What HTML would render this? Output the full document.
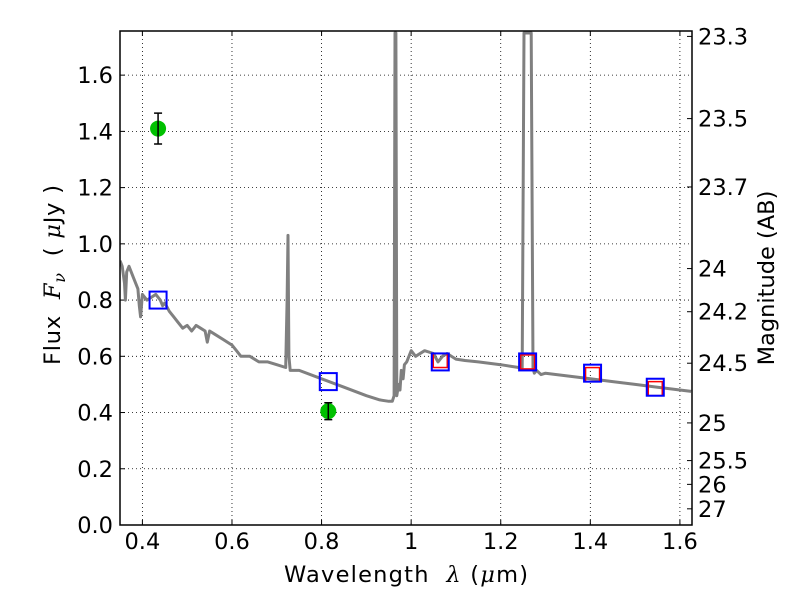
<!DOCTYPE html>
<html><head><meta charset="utf-8">
<style>
html,body{margin:0;padding:0;background:#fff;}
svg text{font-family:"DejaVu Sans","Liberation Sans",sans-serif;}
</style></head>
<body>
<svg id="chart" width="800" height="600" xmlns="http://www.w3.org/2000/svg"></svg>
<script>
const specWave=[0.35,0.355,0.36,0.362,0.365,0.37,0.38,0.39,0.393,0.396,0.40,0.41,0.42,0.43,0.44,0.445,0.45,0.46,0.47,0.48,0.49,0.50,0.51,0.52,0.53,0.54,0.545,0.55,0.56,0.58,0.60,0.61,0.62,0.64,0.66,0.68,0.70,0.72,0.723,0.725,0.727,0.73,0.75,0.80,0.85,0.90,0.93,0.95,0.958,0.962,0.964,0.966,0.968,0.972,0.975,0.978,0.982,0.985,0.99,1.0,1.01,1.03,1.05,1.06,1.07,1.08,1.10,1.12,1.15,1.2,1.24,1.248,1.252,1.268,1.272,1.275,1.28,1.29,1.3,1.35,1.4,1.45,1.5,1.55,1.6,1.625];
const specFlux=[0.94,0.92,0.86,0.80,0.90,0.92,0.88,0.84,0.78,0.74,0.82,0.80,0.81,0.82,0.80,0.78,0.79,0.76,0.74,0.72,0.70,0.71,0.69,0.71,0.70,0.69,0.65,0.69,0.68,0.66,0.64,0.62,0.60,0.60,0.58,0.58,0.57,0.56,0.80,1.03,0.60,0.55,0.55,0.52,0.49,0.46,0.445,0.44,0.44,0.46,1.75,1.75,0.46,0.50,0.48,0.55,0.52,0.57,0.58,0.62,0.60,0.62,0.61,0.58,0.60,0.61,0.59,0.585,0.58,0.57,0.56,0.56,1.75,1.75,0.56,0.54,0.55,0.535,0.54,0.53,0.52,0.51,0.50,0.49,0.48,0.475];
const modelWave=[0.435,0.815,1.065,1.26,1.405,1.545];
const modelFlux=[0.80,0.51,0.58,0.58,0.54,0.49];
const fitWave=[1.065,1.26,1.405,1.545];
const fitFlux=[0.585,0.58,0.535,0.485];
const obsWave=[0.435,0.815];
const obsFlux=[1.41,0.405];
const obsErr=[0.055,0.03];
const xTicks=[0.4,0.6,0.8,1.0,1.2,1.4,1.6];
const xTickLabels=["0.4","0.6","0.8","1","1.2","1.4","1.6"];
const yTicks=[0,0.2,0.4,0.6,0.8,1.0,1.2,1.4,1.6];
const yTickLabels=["0.0","0.2","0.4","0.6","0.8","1.0","1.2","1.4","1.6"];
const magTicks=[23.3,23.5,23.7,24,24.2,24.5,25,25.5,26,27];
const magLabels=["23.3","23.5","23.7","24","24.2","24.5","25","25.5","26","27"];

const L=120,R=692,T=31,B=525;
const X0=0.35,X1=1.627,Y0=0,Y1=1.757;
const sx=v=>L+(v-X0)/(X1-X0)*(R-L);
const sy=v=>B-(v-Y0)/(Y1-Y0)*(B-T);
const svg=document.getElementById('chart');
const NS="http://www.w3.org/2000/svg";
function mk(tag,attrs,parent){const e=document.createElementNS(NS,tag);for(const k in attrs)e.setAttribute(k,attrs[k]);(parent||svg).appendChild(e);return e;}

const clip=mk('clipPath',{id:'pc'});mk('rect',{x:L,y:T,width:R-L,height:B-T},clip);
const FS=22.5;

xTicks.forEach((t,i)=>{
  const g=mk('line',{x1:sx(t),x2:sx(t),y1:T,y2:B,stroke:'#000','stroke-width':0.8,'stroke-dasharray':'1,3'});
  
  
  mk('line',{x1:sx(t),x2:sx(t),y1:B,y2:B-5,stroke:'#000'});
  mk('line',{x1:sx(t),x2:sx(t),y1:T,y2:T+5,stroke:'#000'});
  const tx=mk('text',{x:sx(t),y:B+24,'text-anchor':'middle','font-size':FS});
  tx.textContent=xTickLabels[i];
  
  
});
yTicks.forEach((t,i)=>{
  const g=mk('line',{x1:L,x2:R,y1:sy(t),y2:sy(t),stroke:'#000','stroke-width':0.8,'stroke-dasharray':'1,3'});
  
  
  mk('line',{x1:L,x2:L+5,y1:sy(t),y2:sy(t),stroke:'#000'});
  const tx=mk('text',{x:L-7,y:sy(t)+8,'text-anchor':'end','font-size':FS});
  tx.textContent=yTickLabels[i];
  
  
});
magTicks.forEach((m,i)=>{
  const f=Math.pow(10,(23.9-m)/2.5);
  mk('line',{x1:R,x2:R-5,y1:sy(f),y2:sy(f),stroke:'#000'});
  const tx=mk('text',{x:R+6,y:sy(f)+8,'font-size':FS});
  tx.textContent=magLabels[i];
  
  
});

const pts=specWave.map((w,i)=>sx(w).toFixed(1)+','+sy(specFlux[i]).toFixed(1)).join(' ');
const sp=mk('polyline',{points:pts,fill:'none',stroke:'#808080','stroke-width':3,'stroke-linejoin':'round','clip-path':'url(#pc)'});



fitWave.forEach((w,i)=>{
  const r=mk('rect',{x:sx(w)-7,y:sy(fitFlux[i])-7,width:14,height:14,fill:'none',stroke:'#f00','stroke-width':1.5});
  
  
});
modelWave.forEach((w,i)=>{
  const r=mk('rect',{x:sx(w)-8.5,y:sy(modelFlux[i])-8.5,width:17,height:17,fill:'none',stroke:'#00f','stroke-width':2});
  
  
});
obsWave.forEach((w,i)=>{
  const c=mk('circle',{cx:sx(w),cy:sy(obsFlux[i]),r:8,fill:'#00c000'});
  
  
  const y1=sy(obsFlux[i]+obsErr[i]),y2=sy(obsFlux[i]-obsErr[i]),x=sx(w);
  const e=mk('path',{d:`M${x},${y1}V${y2}M${x-4},${y1}H${x+4}M${x-4},${y2}H${x+4}`,stroke:'#000','stroke-width':1.5,fill:'none'});
  
  
});

const fr=mk('rect',{x:L,y:T,width:R-L,height:B-T,fill:'none',stroke:'#000','stroke-width':1.5});


</script>
<svg style="position:absolute;left:0;top:0" width="800" height="600" xmlns="http://www.w3.org/2000/svg">
<text x="284" y="582" textLength="244" lengthAdjust="spacing" font-size="22.5" font-family="DejaVu Sans, Liberation Sans, sans-serif" xml:space="preserve">Wavelength  <tspan font-style="italic" font-family="DejaVu Serif, Liberation Serif, serif">λ</tspan> (<tspan font-style="italic" font-family="DejaVu Serif, Liberation Serif, serif">μ</tspan>m)</text>
<text transform="translate(60,365) rotate(-90)" textLength="180" lengthAdjust="spacing" font-size="22.5" font-family="DejaVu Sans, Liberation Sans, sans-serif" xml:space="preserve">Flux  <tspan font-style="italic" font-family="DejaVu Serif, Liberation Serif, serif">F<tspan font-size="16" dy="5">ν</tspan></tspan><tspan dy="-5">  ( </tspan><tspan font-style="italic" font-family="DejaVu Serif, Liberation Serif, serif">μ</tspan>Jy )</text>
<text transform="translate(774,278) rotate(-90)" text-anchor="middle" font-size="22.5" font-family="DejaVu Sans, Liberation Sans, sans-serif">Magnitude (AB)</text>
</svg>
</body></html>
